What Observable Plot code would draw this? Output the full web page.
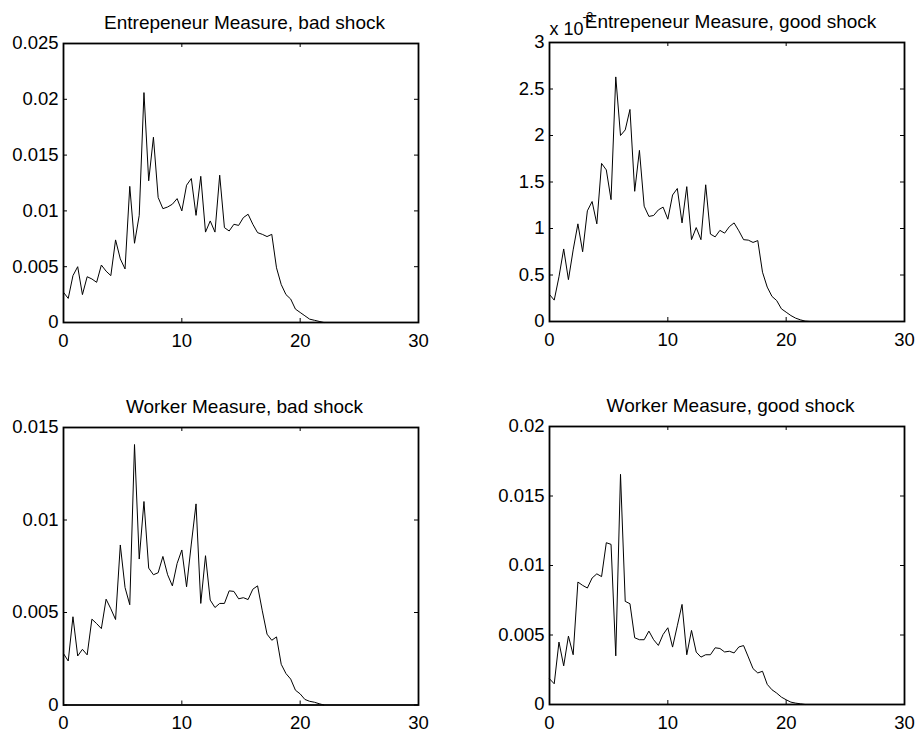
<!DOCTYPE html>
<html><head><meta charset="utf-8">
<script src="https://cdn.jsdelivr.net/npm/d3@7"></script>
<script src="https://cdn.jsdelivr.net/npm/@observablehq/plot@0.6"></script>
<style>
html,body{margin:0;padding:0;background:#fff;}
#fig{position:relative;width:920px;height:738px;overflow:hidden;background:#fff;}
#fig svg{position:absolute;overflow:visible;}
</style></head><body><div id="fig"></div>
<script>
// grid of the measure (x axis)
const xGrid = [0,0.4,0.8,1.2,1.6,2,2.4,2.8,3.2,3.6,4,4.4,4.8,5.2,5.6,6,6.4,6.8,7.2,7.6,
  8,8.4,8.8,9.2,9.6,10,10.4,10.8,11.2,11.6,12,12.4,12.8,13.2,13.6,14,14.4,14.8,15.2,15.6,
  16,16.4,16.8,17.2,17.6,18,18.4,18.8,19.2,19.6,20,20.4,20.8,21.2,21.6,22];
const xTicks = [0,10,20,30];

// Entrepreneur measure, bad shock
const entBad = [0.0027,0.00216,0.0042,0.0050,0.0025,0.0041,0.0039,0.0036,0.00515,0.0046,
  0.0042,0.0074,0.0057,0.0048,0.0122,0.0071,0.0096,0.0206,0.0127,0.0166,
  0.0112,0.0102,0.01035,0.0106,0.0111,0.0100,0.0123,0.0129,0.0096,0.0131,
  0.0081,0.0091,0.0081,0.0132,0.0085,0.0082,0.0088,0.0087,0.0094,0.0097,
  0.0088,0.00805,0.0079,0.0077,0.0079,0.0049,0.0034,0.0025,0.0021,0.0012,
  0.0009,0.0006,0.0003,0.0002,0.0001,0];
const entBadTicks = [0,0.005,0.01,0.015,0.02,0.025];

// Entrepreneur measure, good shock (in units of 1e-3)
const entGoodE3 = [0.29,0.23,0.48,0.78,0.45,0.77,1.05,0.75,1.19,1.29,
  1.05,1.70,1.63,1.31,2.63,2.00,2.06,2.28,1.40,1.84,
  1.24,1.13,1.14,1.20,1.23,1.10,1.36,1.43,1.06,1.45,
  0.88,1.01,0.88,1.47,0.94,0.91,0.98,0.95,1.02,1.06,
  0.975,0.88,0.875,0.85,0.87,0.53,0.37,0.27,0.225,0.136,
  0.10,0.064,0.036,0.018,0.004,0];
const entGoodTicks = [0,0.5,1,1.5,2,2.5,3];

// Worker measure, bad shock
const wrkBad = [0.00278,0.00238,0.00477,0.00265,0.00301,0.00271,0.00464,0.0044,0.00413,0.00572,
  0.0052,0.00462,0.00865,0.00635,0.00542,0.01408,0.00789,0.0110,0.0074,0.00704,
  0.00715,0.00803,0.00704,0.00644,0.00765,0.00838,0.00639,0.0087,0.01087,0.00549,
  0.00807,0.00567,0.00527,0.00549,0.00549,0.00617,0.00614,0.00574,0.0058,0.0057,
  0.00626,0.00644,0.00509,0.00383,0.0035,0.00368,0.0022,0.0017,0.0014,0.0008,
  0.0006,0.0003,0.0002,0.00015,0.00007,0];
const wrkBadTicks = [0,0.005,0.01,0.015];

// Worker measure, good shock
const wrkGood = [0.00185,0.00149,0.00449,0.00278,0.00492,0.00358,0.00881,0.00857,0.00838,0.0091,
  0.0094,0.0092,0.01164,0.01152,0.0035,0.01656,0.00742,0.00725,0.0048,0.00466,
  0.00466,0.00528,0.00466,0.00425,0.00504,0.00552,0.00413,0.00566,0.0072,0.00358,
  0.00533,0.00377,0.00341,0.00358,0.00358,0.00408,0.00403,0.00378,0.00383,0.00371,
  0.00414,0.00424,0.00342,0.00258,0.00227,0.00239,0.00145,0.00106,0.00082,0.00053,
  0.00034,0.00017,0.0001,0.00005,0];
const wrkGoodTicks = [0,0.005,0.01,0.015,0.02];

const titles = ["Entrepeneur Measure, bad shock","Entrepeneur Measure, good shock",
                "Worker Measure, bad shock","Worker Measure, good shock"];

const panels = [
  {title: titles[0], values: entBad,    yTicks: entBadTicks,  left: 63.3,  top: 42.5, h: 279},
  {title: titles[1], values: entGoodE3, yTicks: entGoodTicks, left: 549,   top: 42.3, h: 279, exponent: true},
  {title: titles[2], values: wrkBad,    yTicks: wrkBadTicks,  left: 63.3,  top: 426.5, h: 277.5},
  {title: titles[3], values: wrkGood,   yTicks: wrkGoodTicks, left: 548.5, top: 426, h: 278}
];

const W = 355, mL = 60, mR = 12, mT = 40, mB = 32;
const font = "'Liberation Sans', Arial, Helvetica, sans-serif";
const fig = document.getElementById("fig");

for (const p of panels) {
  const H = p.h;
  const rows = p.values.map((v, i) => ({x: xGrid[i], y: v}));
  const yMax = p.yTicks[p.yTicks.length - 1];
  const marks = [
    Plot.line(rows, {x: "x", y: "y", stroke: "#000", strokeWidth: 1}),
    Plot.tickX(xTicks, {x: d => d, insetTop: H - 4, stroke: "#000"}),
    Plot.tickX(xTicks, {x: d => d, insetBottom: H - 4, stroke: "#000"}),
    Plot.tickY(p.yTicks, {y: d => d, insetRight: W - 4, stroke: "#000"}),
    Plot.tickY(p.yTicks, {y: d => d, insetLeft: W - 4, stroke: "#000"}),
    Plot.frame({stroke: "#000", strokeWidth: 1.8}),
    Plot.axisX(xTicks, {tickSize: 0, tickPadding: 11, tickFormat: d => String(d), label: null, fill: "#000"}),
    Plot.axisY(p.yTicks, {tickSize: 0, tickPadding: 5, tickFormat: d => String(d), label: null, fill: "#000"}),
    Plot.text([p.title], {frameAnchor: "top", dx: 3.5, dy: -14.4, lineAnchor: "bottom", fontSize: 19, fill: "#000"})
  ];
  if (p.exponent) {
    marks.push(Plot.text(["x 10"], {frameAnchor: "top-left", textAnchor: "start", dy: -7.8, lineAnchor: "bottom", fontSize: 18, fill: "#000"}));
    marks.push(Plot.text(["-3"], {frameAnchor: "top-left", textAnchor: "start", dx: 33, dy: -22, lineAnchor: "bottom", fontSize: 12, fill: "#000"}));
  }
  const svg = Plot.plot({
    width: mL + W + mR, height: mT + H + mB,
    marginLeft: mL, marginRight: mR, marginTop: mT, marginBottom: mB,
    style: {fontFamily: font, fontSize: "18.5px", color: "#000", background: "transparent", overflow: "visible"},
    x: {domain: [0, 30]},
    y: {domain: [0, yMax]},
    marks
  });
  svg.style.left = (p.left - mL) + "px";
  svg.style.top = (p.top - mT) + "px";
  fig.appendChild(svg);
}
</script>
</body></html>
